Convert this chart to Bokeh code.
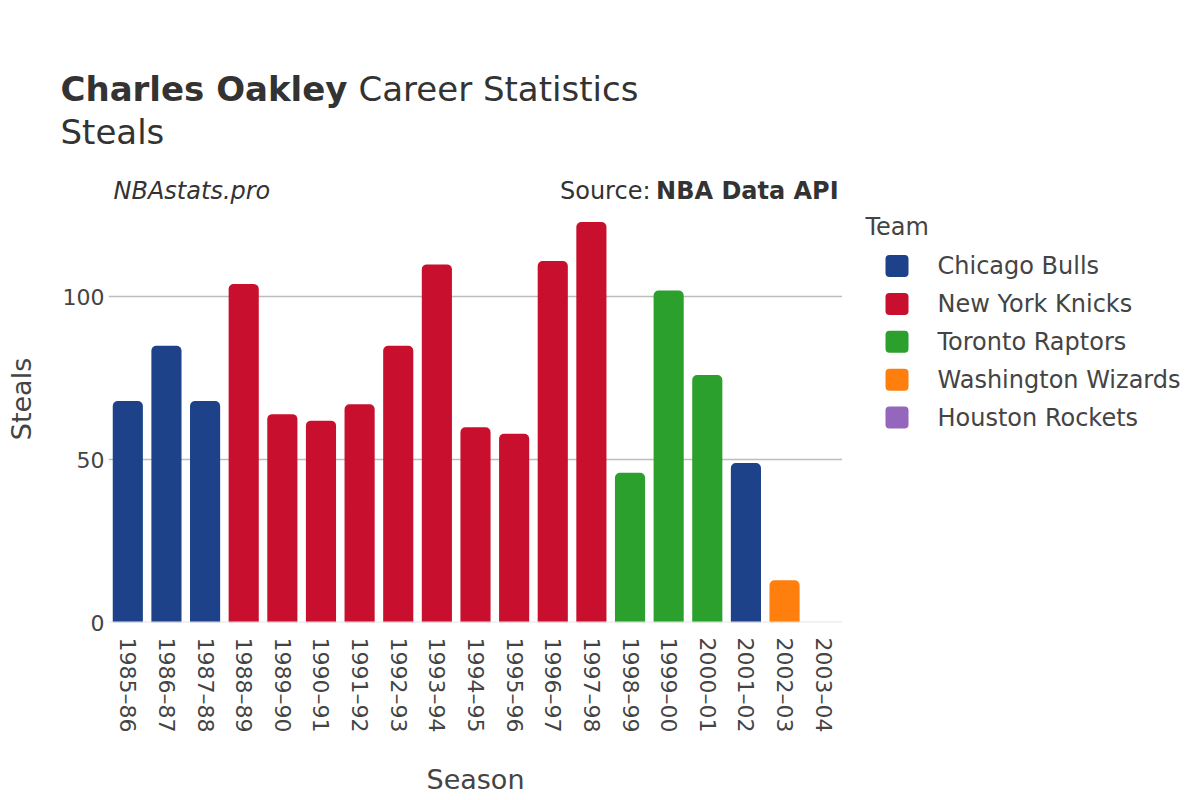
import math
from bokeh.plotting import figure
from bokeh.layouts import column, row
from bokeh.models import (ColumnDataSource, FactorRange, Range1d, Label, Span, FixedTicker)
from bokeh.embed import file_html
from bokeh.resources import INLINE

seasons = ["1985–86", "1986–87", "1987–88", "1988–89", "1989–90", "1990–91", "1991–92",
           "1992–93", "1993–94", "1994–95", "1995–96", "1996–97", "1997–98", "1998–99",
           "1999–00", "2000–01", "2001–02", "2002–03", "2003–04"]
steals = [68, 85, 68, 104, 64, 62, 67, 85, 110, 60, 58, 111, 123, 46, 102, 76, 49, 13, 0]
teams = ["Chicago Bulls", "Chicago Bulls", "Chicago Bulls", "New York Knicks", "New York Knicks",
         "New York Knicks", "New York Knicks", "New York Knicks", "New York Knicks",
         "New York Knicks", "New York Knicks", "New York Knicks", "New York Knicks",
         "Toronto Raptors", "Toronto Raptors", "Toronto Raptors", "Chicago Bulls",
         "Washington Wizards", "Houston Rockets"]
team_order = ["Chicago Bulls", "New York Knicks", "Toronto Raptors", "Washington Wizards", "Houston Rockets"]
team_colors = ["#1D428A", "#C8102E", "#2CA02C", "#FF7F0E", "#9467BD"]
y_ticks = [0, 50, 100]

FONT = "DejaVu Sans"
TXT = "#444444"
DARK = "#333333"

HEAD_H = 175
BODY_H = 625
BOTTOM = 178
LEFT = 108
FRAME_W = 734
Y_MAX = 137.3


def blank(width, height, **kw):
    f = figure(width=width, height=height, output_backend="svg", toolbar_location=None,
               outline_line_color=None, background_fill_color="white",
               border_fill_color="white", **kw)
    f.axis.visible = False
    f.grid.grid_line_color = None
    return f


# ---------- header ----------
head = blank(1200, HEAD_H, x_range=Range1d(0, 1200), y_range=Range1d(HEAD_H, 0), min_border=0)
head.add_layout(Label(x=60, y=88, text="Charles Oakley", text_baseline="middle",
                      text_font=FONT, text_font_size="34px", text_font_style="bold", text_color=DARK))
head.add_layout(Label(x=358, y=88, text="Career Statistics", text_baseline="middle",
                      text_font=FONT, text_font_size="34px", text_color=DARK))
head.add_layout(Label(x=60, y=131, text="Steals", text_baseline="middle",
                      text_font=FONT, text_font_size="34px", text_color=DARK))

# ---------- main chart ----------
p = figure(x_range=FactorRange(*seasons, range_padding=0), y_range=Range1d(0, Y_MAX),
           width=LEFT + FRAME_W, height=BODY_H,
           min_border_left=LEFT, min_border_right=0, min_border_top=0, min_border_bottom=BOTTOM,
           output_backend="svg", toolbar_location=None, outline_line_color=None,
           background_fill_color="white", border_fill_color="white")

for team, col in zip(team_order, team_colors):
    idx = [i for i, t in enumerate(teams) if t == team]
    src = ColumnDataSource(dict(season=[seasons[i] for i in idx], steals=[steals[i] for i in idx]))
    p.vbar(x="season", top="steals", width=0.78, source=src, fill_color=col, line_color=None,
           border_radius=(5, 5, 0, 0))

p.xgrid.grid_line_color = None
p.ygrid.grid_line_color = "#bdbdbd"
p.ygrid.grid_line_width = 1.3
p.yaxis.ticker = FixedTicker(ticks=y_ticks)
p.add_layout(Span(location=0, dimension="width", line_color="#e6e6e6", line_width=2))

for ax in (p.xaxis[0], p.yaxis[0]):
    ax.axis_line_color = None
    ax.major_tick_line_color = None
    ax.minor_tick_line_color = None
    ax.major_tick_out = 0
    ax.major_tick_in = 0
    ax.major_label_text_font = FONT
    ax.major_label_text_font_size = "22px"
    ax.major_label_text_color = TXT
    ax.axis_label_text_font = FONT
    ax.axis_label_text_font_size = "27px"
    ax.axis_label_text_color = TXT
    ax.axis_label_text_font_style = "normal"

p.xaxis.major_label_orientation = -math.pi / 2
p.xaxis.major_label_standoff = 15
p.xaxis.axis_label = "Season"
p.xaxis.axis_label_standoff = 29
p.yaxis.major_label_standoff = 4
p.yaxis.axis_label = "Steals"
p.yaxis.axis_label_standoff = 23

# annotations just above the bars (data units of the main frame)
p.add_layout(Label(x=0.13, y=132.4, text="NBAstats.pro", text_baseline="middle",
                   text_font=FONT, text_font_size="24px", text_font_style="italic", text_color=DARK))
p.add_layout(Label(x=14.03, y=132.4, text="Source:", text_baseline="middle", text_align="right",
                   text_font=FONT, text_font_size="24px", text_color=DARK))
p.add_layout(Label(x=18.9, y=132.4, text="NBA Data API", text_baseline="middle", text_align="right",
                   text_font=FONT, text_font_size="24px", text_font_style="bold", text_color=DARK))

# ---------- legend panel ----------
LEG_W = 1200 - LEFT - FRAME_W
leg = blank(LEG_W, BODY_H, x_range=Range1d(0, LEG_W), y_range=Range1d(BODY_H - BOTTOM, 0),
            min_border_left=0, min_border_right=0, min_border_top=0, min_border_bottom=BOTTOM)
leg.add_layout(Label(x=23, y=51, text="Team", text_baseline="middle",
                     text_font=FONT, text_font_size="24px", text_color=TXT))
ly = [90.5 + 37.9 * i for i in range(len(team_order))]
lsrc = ColumnDataSource(dict(left=[43] * len(ly), right=[66] * len(ly),
                             top=[y - 11 for y in ly], bottom=[y + 11 for y in ly],
                             color=team_colors, y=ly, x=[95] * len(ly), label=team_order))
leg.quad(left="left", right="right", top="top", bottom="bottom", fill_color="color",
         line_color=None, source=lsrc, border_radius=4)
leg.text(x="x", y="y", text="label", source=lsrc, text_baseline="middle",
         text_font={"value": FONT}, text_font_size="24px", text_color=TXT)

layout = column(head, row(p, leg, spacing=0), spacing=0)
open("out.html", "w").write(file_html(layout, INLINE))
